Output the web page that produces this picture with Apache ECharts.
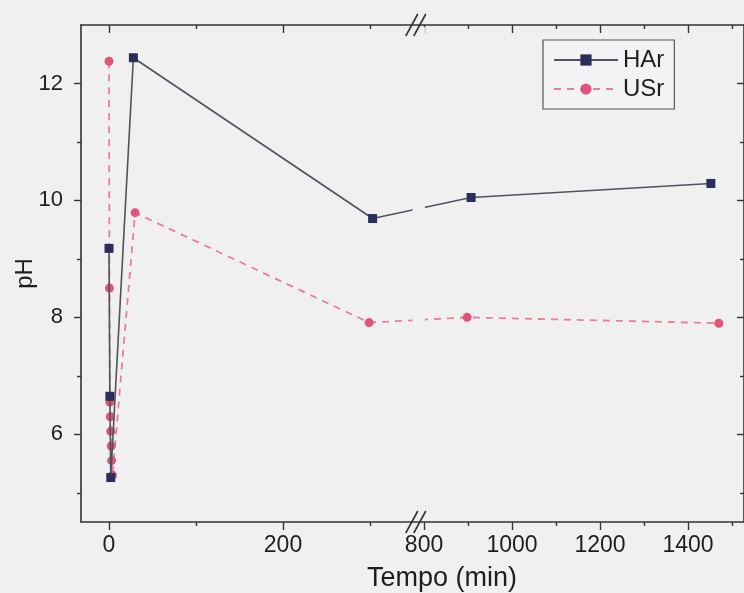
<!DOCTYPE html>
<html><head><meta charset="utf-8">
<script src="https://cdn.jsdelivr.net/npm/echarts@6/dist/echarts.min.js"></script>
<style>html,body{margin:0;padding:0;background:#f0f0f0;}#c{width:744px;height:593px;}</style>
</head><body><div id="c"></div>
<script>
// ---- data (time in minutes, pH) ----
const seriesNames = ['HAr', 'USr'];
const harTime = [0, 1, 2, 28, 303, 907, 1452];
const harPH   = [9.18, 6.65, 5.26, 12.44, 9.69, 10.05, 10.29];
const usrTime = [0, 0.5, 1, 1.5, 2, 2.5, 3, 4, 30, 299, 898, 1470];
const usrPH   = [12.38, 8.50, 6.55, 6.30, 6.05, 5.80, 5.55, 5.30, 9.79, 7.91, 8.00, 7.90];
const xMajorTicks = [0, 200, 800, 1000, 1200, 1400];
const xTickLabels = ['0', '200', '800', '1000', '1200', '1400'];
const xMinorTicks = [100, 300, 900, 1100, 1300, 1500];
const yMajorTicks = [6, 8, 10, 12];
const yTickLabels = ['6', '8', '10', '12'];
const yMinorTicks = [5, 7, 9, 11];

// ---- broken-axis scale: segment 1 native, segment 2 compressed ----
const SEG1_END = 349, SEG2_START = 802;
const SEG2_ANCHOR = 800, SEG2_ANCHOR_D = 362.1, SEG2_RATIO = 0.5057;
function toD(t) { return t <= SEG1_END ? t : SEG2_ANCHOR_D + (t - SEG2_ANCHOR) * SEG2_RATIO; }
const X_MIN = -32.2, X_MAX = 729.9, Y_MIN = 4.5, Y_MAX = 13;

const BG = '#f0f0f0', AX = '#333333', TXT = '#1e1e1e';
const FONT = 'Liberation Sans, Arial, sans-serif';

function pairs(ts, vs) { return ts.map((t, i) => [toD(t), vs[i]]); }
function nearestLabel(v, ticks, labels, f) {
  let bi = 0, bd = Infinity;
  ticks.forEach((t, i) => { const d = Math.abs(f(t) - v); if (d < bd) { bd = d; bi = i; } });
  return labels[bi];
}

const xMaj = xMajorTicks.map(toD), xMin = xMinorTicks.map(toD);
function xAxisDef(pos, ticks, len, inside, labels) {
  return {
    type: 'value', position: pos, min: X_MIN, max: X_MAX, offset: 0,
    axisLine: { show: len > 5, onZero: false, lineStyle: { color: AX, width: 1.6 } },
    axisTick: { show: true, customValues: ticks, length: len, inside: inside, lineStyle: { color: AX, width: 1.4 } },
    axisLabel: labels ? {
      show: true, customValues: ticks, fontSize: 23, color: TXT, fontFamily: FONT, margin: 12,
      formatter: v => nearestLabel(v, xMajorTicks, xTickLabels, toD)
    } : { show: false },
    splitLine: { show: false }
  };
}
function yAxisDef(pos, ticks, len, inside, labels) {
  const o = {
    type: 'value', position: pos, min: Y_MIN, max: Y_MAX, offset: 0,
    axisLine: { show: len > 5, onZero: false, lineStyle: { color: AX, width: 1.6 } },
    axisTick: { show: true, customValues: ticks, length: len, inside: inside, lineStyle: { color: AX, width: 1.4 } },
    axisLabel: labels ? {
      show: true, customValues: ticks, fontSize: 22, color: TXT, fontFamily: FONT, margin: 18,
      formatter: v => nearestLabel(v, yMajorTicks, yTickLabels, a => a)
    } : { show: false },
    splitLine: { show: false }
  };
  if (labels) {
    o.name = 'pH'; o.nameLocation = 'middle'; o.nameGap = 44; o.nameMoveOverlap = false;
    o.nameTextStyle = { fontSize: 24, color: TXT, fontFamily: FONT };
  }
  return o;
}

const chart = echarts.init(document.getElementById('c'), null, { renderer: 'canvas' });
chart.setOption({
  backgroundColor: BG,
  animation: false,
  title: {
    text: 'Tempo (min)', left: 367, top: 565, padding: 0,
    textStyle: { fontSize: 27, fontWeight: 'normal', color: TXT, fontFamily: FONT }
  },
  legend: {
    orient: 'vertical', left: 543, top: 40,
    padding: [8, 10, 8, 10], itemGap: 5, itemWidth: 64, itemHeight: 14,
    borderColor: '#555', borderWidth: 1.2, backgroundColor: '#f3f3f6',
    textStyle: { fontSize: 24, color: TXT, fontFamily: FONT, padding: [0, 0, 0, 0] },
    data: seriesNames
  },
  grid: { left: 81, right: 0, top: 25, bottom: 71, containLabel: false, outerBoundsMode: 'none' },
  xAxis: [
    xAxisDef('bottom', xMaj, 8, false, true),
    xAxisDef('bottom', xMin, 4, false, false),
    xAxisDef('top', xMaj, 8, true, false),
    xAxisDef('top', xMin, 4, true, false)
  ],
  yAxis: [
    yAxisDef('left', yMajorTicks, 7, false, true),
    yAxisDef('left', yMinorTicks, 4, false, false),
    yAxisDef('right', yMajorTicks, 7, true, false),
    yAxisDef('right', yMinorTicks, 4, true, false)
  ],
  series: [
    {
      name: seriesNames[0], type: 'line', xAxisIndex: 0, yAxisIndex: 0,
      data: pairs(harTime, harPH), symbol: 'rect', symbolSize: 9,
      itemStyle: { color: '#2b2d5a' },
      lineStyle: { color: '#50535f', width: 1.6 }, z: 3
    },
    {
      name: seriesNames[1], type: 'line', xAxisIndex: 0, yAxisIndex: 0,
      data: pairs(usrTime, usrPH), symbol: 'circle', symbolSize: 9,
      itemStyle: { color: '#e2557a' },
      lineStyle: { color: '#e77f96', width: 1.8, type: [7, 6] }, z: 2
    }
  ]
});

// ---- axis-break decoration, positioned from the axis scale ----
const xL = chart.convertToPixel({ xAxisIndex: 0 }, toD(SEG1_END));
const xR = chart.convertToPixel({ xAxisIndex: 0 }, toD(SEG2_START));
const yT = chart.convertToPixel({ yAxisIndex: 0 }, Y_MAX);
const yB = chart.convertToPixel({ yAxisIndex: 0 }, Y_MIN);
const xc = (xL + xR) / 2;
function slashes(y) {
  return [
    { type: 'line', z: 120, shape: { x1: xc - 13, y1: y + 11, x2: xc - 1, y2: y - 11 }, style: { stroke: AX, lineWidth: 1.6 } },
    { type: 'line', z: 120, shape: { x1: xc - 5, y1: y + 11, x2: xc + 7, y2: y - 11 }, style: { stroke: AX, lineWidth: 1.6 } }
  ];
}
chart.setOption({
  graphic: [
    { type: 'rect', z: 110, shape: { x: xL, y: yT + 2, width: xR - xL, height: yB - yT - 4 }, style: { fill: BG } },
    ...slashes(yT), ...slashes(yB)
  ]
});
</script></body></html>
